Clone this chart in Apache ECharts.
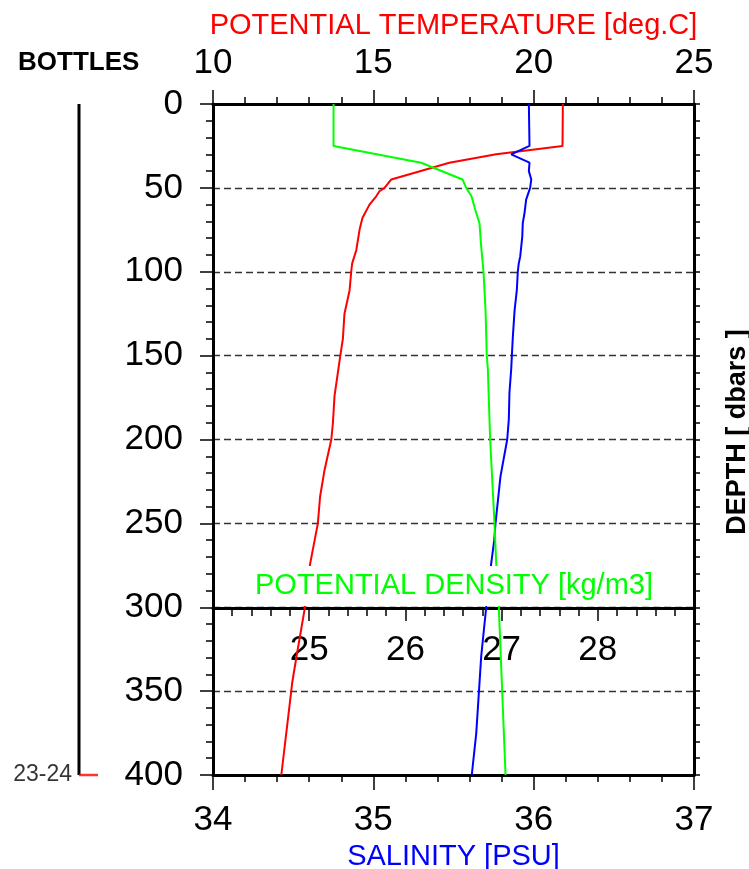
<!DOCTYPE html>
<html>
<head>
<meta charset="utf-8">
<script src="https://cdn.jsdelivr.net/npm/echarts@6/dist/echarts.min.js"></script>
<style>
  html, body { margin: 0; padding: 0; background: #fff; }
  #chart { width: 749px; height: 869px; }
</style>
</head>
<body>
<div id="chart"></div>
<script>
// CTD cast profiles, pressure in dbar (increasing downward)
const tempDepth  = [0, 25, 30, 35, 45, 50, 52, 55, 60, 68, 75, 87, 95, 100, 111, 125, 140, 150, 174, 190, 200, 218, 234, 250, 274, 302, 331, 345, 350, 400];
const tempValues = [20.91, 20.90, 18.83, 17.37, 15.56, 15.35, 15.19, 15.09, 14.88, 14.66, 14.57, 14.47, 14.34, 14.31, 14.26, 14.10, 14.05, 13.97, 13.79, 13.74, 13.69, 13.48, 13.34, 13.27, 13.03, 12.85, 12.59, 12.47, 12.44, 12.13];

const salDepth  = [0, 25, 30, 35, 40, 45, 50, 57, 65, 71, 79, 91, 95, 100, 111, 123, 139, 150, 158, 172, 188, 200, 222, 250, 260, 274, 300, 329, 375, 400];
const salValues = [35.970, 35.974, 35.860, 35.974, 35.970, 35.985, 35.978, 35.953, 35.943, 35.932, 35.929, 35.916, 35.907, 35.901, 35.895, 35.881, 35.870, 35.864, 35.860, 35.849, 35.845, 35.835, 35.793, 35.762, 35.754, 35.735, 35.704, 35.673, 35.642, 35.614];

const densDepth  = [0, 25, 35, 45, 50, 55, 65, 71, 85, 100, 123, 150, 158, 200, 250, 274, 300, 400];
const densValues = [25.253, 25.253, 26.164, 26.594, 26.632, 26.687, 26.736, 26.770, 26.788, 26.812, 26.833, 26.846, 26.857, 26.881, 26.926, 26.944, 26.971, 27.041];

// Cast extent and bottle trip depths
const castDepths   = [0, 400];
const bottleDepths = [400];
const bottleLabels = ['23-24'];

const FONT = 'Liberation Sans, Arial, Helvetica, sans-serif';

const pairs = (vals, depths) => vals.map((v, i) => [v, depths[i]]);

const chart = echarts.init(document.getElementById('chart'), null, { renderer: 'canvas' });

const axisLine = { show: true, onZero: false, lineStyle: { color: '#000', width: 3 } };
const tick = (len) => ({ show: true, length: len, inside: false, lineStyle: { color: '#000', width: 1.5 } });
const minor = (len) => ({ show: true, splitNumber: 5, length: len, lineStyle: { color: '#000', width: 1.5 } });
const label = (margin, extra) => Object.assign({ color: '#000', fontSize: 35, fontFamily: FONT, margin: margin }, extra || {});

chart.setOption({
  animation: false,
  backgroundColor: '#fff',
  grid: [
    { left: 213, right: 55, top: 104, bottom: 94, outerBoundsMode: 'none', containLabel: false },
    { left: 79, width: 20, top: 104, bottom: 94, outerBoundsMode: 'none', containLabel: false }
  ],
  xAxis: [
    { // potential temperature
      type: 'value', gridIndex: 0, position: 'top', min: 10, max: 25, interval: 5,
      axisLine: axisLine, axisTick: tick(14), minorTick: minor(7),
      axisLabel: label(23), splitLine: { show: false },
      name: 'POTENTIAL TEMPERATURE [deg.C]', nameLocation: 'middle', nameGap: 64,
      nameTextStyle: { color: '#ff0000', fontSize: 29, fontFamily: FONT }
    },
    { // salinity
      type: 'value', gridIndex: 0, position: 'bottom', min: 34, max: 37, interval: 1,
      axisLine: axisLine, axisTick: tick(15), minorTick: minor(7),
      axisLabel: label(28), splitLine: { show: false },
      name: 'SALINITY [PSU]', nameLocation: 'middle', nameGap: 64,
      nameTextStyle: { color: '#0000ff', fontSize: 29, fontFamily: FONT }
    },
    { // potential density, drawn along the 300 dbar line
      type: 'value', gridIndex: 0, position: 'bottom', offset: -167, min: 24, max: 29, interval: 1,
      axisLine: axisLine, axisTick: tick(13), minorTick: minor(8),
      axisLabel: label(25, { formatter: (v) => (v > 24 && v < 29 ? String(v) : '') }),
      splitLine: { show: false }
    },
    { type: 'value', gridIndex: 1, min: 0, max: 1, show: false }
  ],
  yAxis: [
    { // pressure, left
      type: 'value', gridIndex: 0, position: 'left', inverse: true, min: 0, max: 400, interval: 50,
      axisLine: axisLine, axisTick: tick(13), minorTick: minor(7),
      axisLabel: label(30),
      splitLine: { show: true, lineStyle: { color: '#333', width: 1.3, type: [7, 4] } }
    },
    { // pressure, right frame
      type: 'value', gridIndex: 0, position: 'right', inverse: true, min: 0, max: 400, interval: 50,
      axisLine: axisLine, axisTick: tick(6), minorTick: minor(6),
      axisLabel: { show: false }, splitLine: { show: false }
    },
    { type: 'value', gridIndex: 1, inverse: true, min: 0, max: 400, show: false }
  ],
  series: [
    {
      name: 'Potential temperature', type: 'line', xAxisIndex: 0, yAxisIndex: 0,
      data: pairs(tempValues, tempDepth), symbol: 'none', z: 3,
      lineStyle: { color: '#ff0000', width: 2 }
    },
    {
      name: 'Salinity', type: 'line', xAxisIndex: 1, yAxisIndex: 0,
      data: pairs(salValues, salDepth), symbol: 'none', z: 3,
      lineStyle: { color: '#0000ff', width: 2 }
    },
    {
      name: 'Potential density', type: 'line', xAxisIndex: 2, yAxisIndex: 0,
      data: pairs(densValues, densDepth), symbol: 'none', z: 3,
      lineStyle: { color: '#00ff00', width: 2 }
    },
    {
      name: 'Cast', type: 'line', xAxisIndex: 3, yAxisIndex: 2,
      data: castDepths.map((d) => [0, d]), symbol: 'none',
      lineStyle: { color: '#000', width: 3 }
    },
    {
      name: 'Bottles', type: 'scatter', xAxisIndex: 3, yAxisIndex: 2,
      data: bottleDepths.map((d, i) => ({ value: [0, d], name: bottleLabels[i] })),
      symbol: 'rect', symbolSize: [19, 2.5], symbolOffset: ['50%', 0], z: 4,
      itemStyle: { color: '#ff0000' },
      label: { show: true, position: 'left', distance: 7, formatter: '{b}', color: '#000', fontSize: 23, fontFamily: FONT }
    }
  ],
  graphic: [
    {
      type: 'text', left: 18, top: 50, z: 100,
      style: { text: 'BOTTLES', fill: '#000', font: 'bold 26px ' + FONT }
    },
    {
      type: 'text', x: 738, y: 432, rotation: Math.PI / 2, z: 100,
      style: { text: 'DEPTH [ dbars ]', fill: '#000', font: 'bold 27px ' + FONT, textAlign: 'center', textVerticalAlign: 'middle' }
    },
    {
      type: 'rect', z: 100,
      shape: { x: 215, y: 566, width: 477, height: 40 },
      style: { fill: '#fff' }
    },
    {
      type: 'text', x: 454, y: 586, z: 101,
      style: { text: 'POTENTIAL DENSITY [kg/m3]', fill: '#00ff00', font: '29px ' + FONT, textAlign: 'center', textVerticalAlign: 'middle' }
    }
  ]
});
</script>
</body>
</html>
